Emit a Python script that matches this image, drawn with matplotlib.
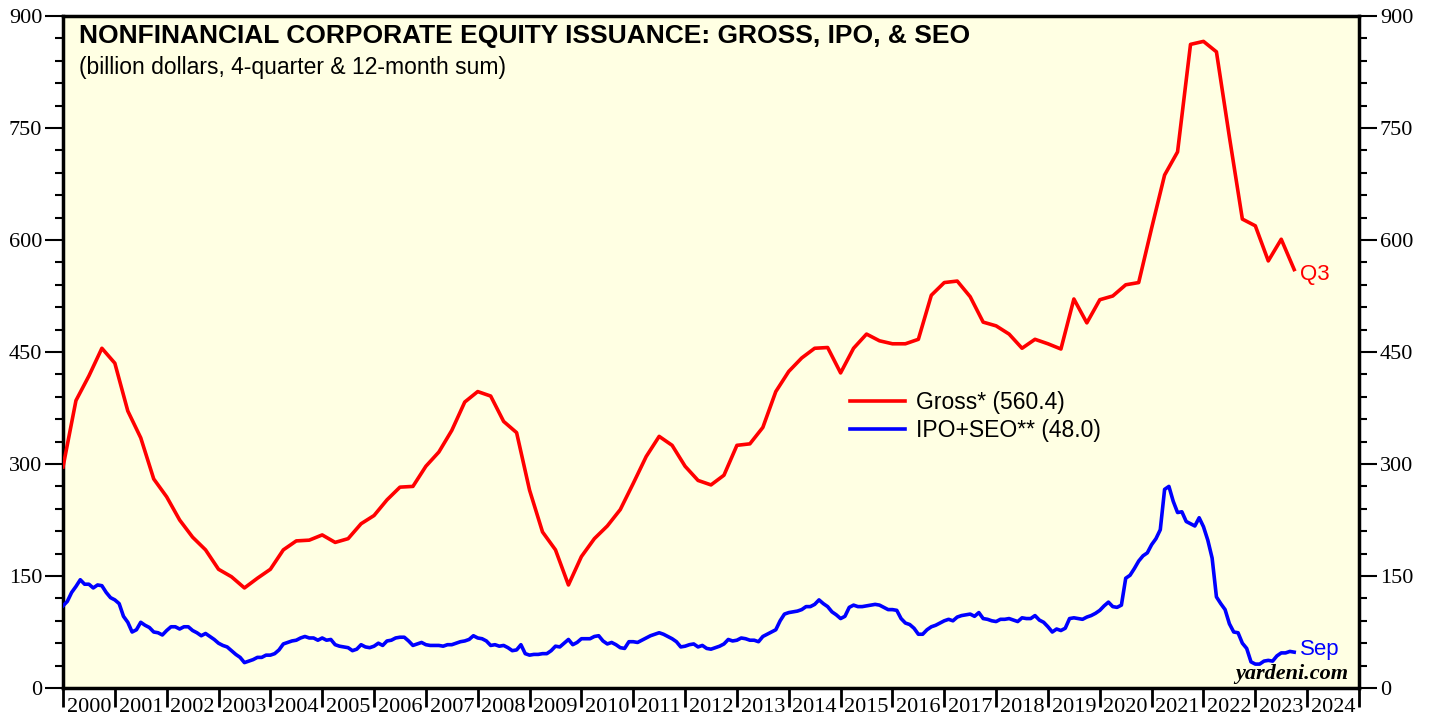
import numpy as np
import matplotlib.pyplot as plt
from matplotlib.ticker import MultipleLocator, FixedLocator, NullFormatter

# Gross issuance, 4-quarter sum, quarterly from Q4 1999 to Q3 2023 (billion $)
gross = [
    296, 385, 418, 455, 435, 371, 335, 280, 256, 225, 202, 185,
    159, 149, 134, 147, 159, 185, 197, 198, 205, 195, 200, 220,
    231, 252, 269, 270, 297, 316, 345, 383, 397, 391, 357, 342,
    265, 209, 185, 138, 176, 200, 217, 239, 274, 310, 337, 325,
    297, 278, 272, 285, 325, 327, 349, 397, 424, 442, 455, 456,
    422, 455, 474, 465, 461, 461, 467, 526, 543, 545, 524, 490,
    485, 474, 455, 467, 461, 454, 521, 489, 520, 525, 540, 543,
    616, 687, 718, 862, 866, 852, 738, 628, 619, 572, 601, 560.4,
]

# IPO + SEO, 12-month sum, monthly from Dec 1999 to Sep 2023 (billion $)
ipo_seo = [
    110, 116, 128, 136, 145, 139, 139, 134, 138, 137, 128, 121,
    118, 113, 96, 88, 75, 78, 88, 84, 81, 75, 74, 71,
    77, 82, 82, 79, 82, 82, 77, 74, 70, 73, 69, 65,
    60, 57, 55, 50, 45, 41, 34, 36, 38, 41, 41, 44,
    44, 46, 51, 59, 61, 63, 64, 67, 69, 67, 67, 64,
    67, 64, 65, 58, 56, 55, 54, 50, 52, 58, 55, 54,
    56, 60, 57, 63, 64, 67, 68, 68, 63, 57, 59, 61,
    58, 57, 57, 57, 56, 58, 58, 60, 62, 63, 65, 70,
    67, 66, 63, 57, 58, 56, 57, 54, 50, 51, 58, 46,
    44, 45, 45, 46, 46, 50, 56, 55, 60, 65, 58, 61,
    66, 66, 66, 69, 70, 63, 59, 61, 58, 54, 53, 62,
    62, 61, 64, 67, 70, 72, 74, 72, 69, 66, 62, 55,
    56, 58, 59, 55, 57, 53, 52, 54, 56, 59, 65, 63,
    64, 67, 66, 64, 64, 62, 69, 72, 75, 78, 90, 99,
    101, 102, 103, 105, 109, 109, 112, 118, 113, 109, 102, 98,
    93, 96, 108, 111, 109, 109, 110, 111, 112, 111, 108, 105,
    105, 104, 93, 87, 85, 80, 72, 72, 78, 82, 84, 87,
    90, 92, 90, 95, 97, 98, 99, 96, 101, 93, 92, 90,
    89, 92, 92, 93, 91, 89, 94, 93, 93, 97, 91, 88,
    82, 75, 79, 77, 80, 93, 94, 93, 92, 95, 97, 100,
    104, 110, 115, 109, 108, 111, 147, 151, 160, 170, 177, 181,
    192, 200, 212, 266, 270, 250, 235, 236, 223, 220, 217, 228,
    216, 198, 174, 122, 113, 105, 86, 75, 74, 60, 53, 35,
    32, 32, 36, 37, 36, 43, 47, 47, 49, 48.0,
]

years = list(range(2000, 2025))
gross_t = 2000 + np.arange(len(gross)) / 4
ipo_t = 2000 + np.arange(len(ipo_seo)) / 12

serif = "Liberation Serif"
sans = "Liberation Sans"

fig = plt.figure(figsize=(14.29, 7.17), dpi=100)
ax = fig.add_axes([63 / 1429, 1 - 688 / 717, (1359 - 63) / 1429, (688 - 16) / 717])
ax.set_facecolor("#FFFFE3")

ax.plot(gross_t, gross, color="#FF0000", lw=2.6, label="Gross* (560.4)", zorder=3)
ax.plot(ipo_t, ipo_seo, color="#0000FF", lw=2.6, label="IPO+SEO** (48.0)", zorder=3)

ax.set_xlim(2000, 2025)
ax.set_ylim(0, 900)

# y axis ticks on both sides
ax.yaxis.set_major_locator(MultipleLocator(150))
ax.yaxis.set_minor_locator(MultipleLocator(30))
ax.tick_params(axis="y", which="both", left=True, right=True,
               labelleft=True, labelright=True, direction="out", width=1.5)
ax.tick_params(axis="y", which="major", length=13, labelsize=16, pad=2)
ax.tick_params(axis="y", which="minor", length=6)

# x axis: ticks at year boundaries, labels centred on each year
ax.xaxis.set_major_locator(FixedLocator(years + [2025]))
ax.xaxis.set_major_formatter(NullFormatter())
ax.xaxis.set_minor_locator(FixedLocator([y + 0.5 for y in years]))
ax.set_xticklabels([str(y) for y in years], minor=True)
ax.tick_params(axis="x", which="major", length=14, width=2, direction="out")
ax.tick_params(axis="x", which="minor", length=0, labelsize=16, pad=7)

for t in ax.get_xticklabels(minor=True):
    t.set_fontfamily(serif)
for t in ax.yaxis.get_ticklabels():
    t.set_fontfamily(serif)

for sp in ax.spines.values():
    sp.set_linewidth(2.5)
    sp.set_color("black")

# titles
ax.text(0.012, 0.970, "NONFINANCIAL CORPORATE EQUITY ISSUANCE: GROSS, IPO, & SEO",
        transform=ax.transAxes, fontfamily=sans, fontweight="bold", fontsize=19,
        va="center", ha="left")
ax.text(0.012, 0.924, "(billion dollars, 4-quarter & 12-month sum)",
        transform=ax.transAxes, fontfamily=sans, fontsize=16.5, va="center", ha="left")

leg = ax.legend(loc="upper left", bbox_to_anchor=(0.6, 0.455), frameon=False,
                prop={"family": sans, "size": 16.5}, handlelength=2.4,
                handletextpad=0.5, labelspacing=0.2, borderaxespad=0)

# end-of-series labels
ax.text(gross_t[-1] + 0.12, gross[-1] - 6, "Q3", color="#FF0000", fontfamily=sans,
        fontsize=16, va="center", ha="left")
ax.text(ipo_t[-1] + 0.12, ipo_seo[-1] + 3, "Sep", color="#0000FF", fontfamily=sans,
        fontsize=16, va="center", ha="left")
ax.text(0.9915, 0.006, "yardeni.com", transform=ax.transAxes, fontfamily=serif,
        fontweight="bold", fontstyle="italic", fontsize=16, ha="right", va="bottom")

fig.savefig("out.png", dpi=100)
